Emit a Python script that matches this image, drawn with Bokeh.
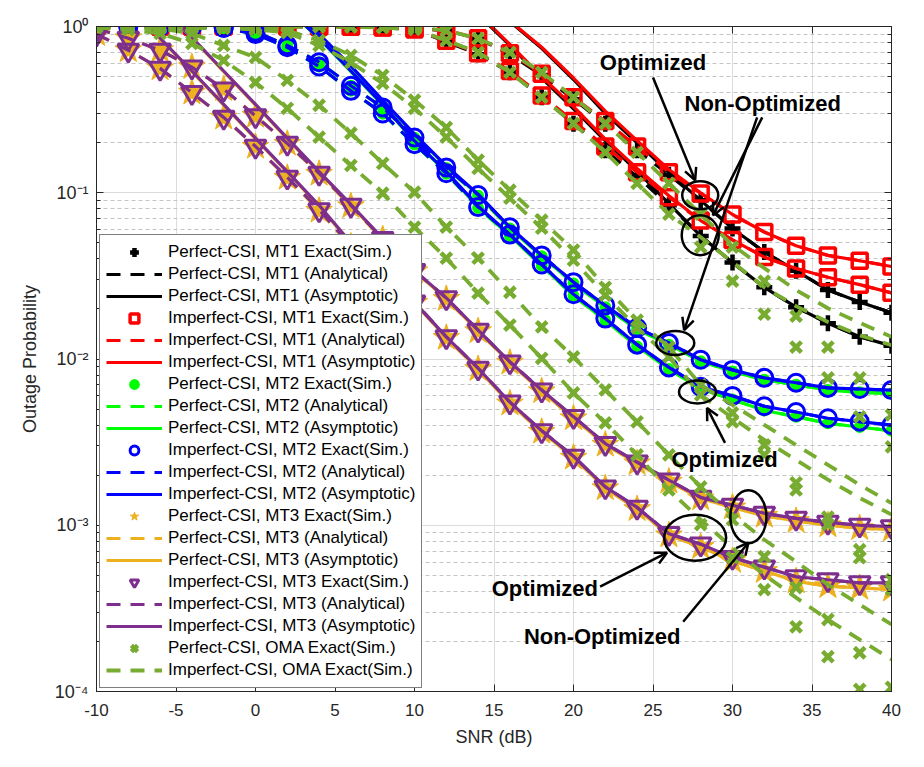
from bokeh.plotting import figure
from bokeh.models import (Range1d, FixedTicker, LogTicker, LinearAxis, LogAxis,
                          CustomJSTickFormatter, Legend, LegendItem, Label, Arrow, OpenHead)
from bokeh.embed import file_html
from bokeh.resources import INLINE

nan = float('nan')

snr_db = [-10, -8, -6, -4, -2, 0, 2, 4, 6, 8, 10, 12, 14, 16, 18, 20, 22, 24, 26, 28, 30, 32, 34, 36, 38, 40]
x_ticks = [-10, -5, 0, 5, 10, 15, 20, 25, 30, 35, 40]

# ---- MT1 ----
mt1_perf_hi = [1.0, 1.0, 1.0, 1.0, 1.0, 1.0, 1.0, 0.999, 0.997, 0.99, 0.972, 0.945, 0.845, 0.68, 0.51, 0.365, 0.26, 0.18, 0.128, 0.09, 0.061, 0.044, 0.034, 0.026, 0.022, 0.019]
mt1_perf_lo = [1.0, 1.0, 1.0, 1.0, 1.0, 1.0, 1.0, 0.998, 0.995, 0.985, 0.955, 0.81, 0.68, 0.53, 0.375, 0.26, 0.18, 0.125, 0.084, 0.055, 0.038, 0.027, 0.0205, 0.0164, 0.0136, 0.012]
mt1_imp_hi = [1.0, 1.0, 1.0, 1.0, 1.0, 1.0, 1.0, 0.999, 0.998, 0.99, 0.973, 0.946, 0.85, 0.69, 0.52, 0.375, 0.27, 0.19, 0.133, 0.099, 0.074, 0.058, 0.048, 0.042, 0.039, 0.036]
mt1_imp_lo = [1.0, 1.0, 1.0, 1.0, 1.0, 1.0, 1.0, 0.998, 0.996, 0.985, 0.96, 0.82, 0.69, 0.54, 0.385, 0.27, 0.19, 0.133, 0.094, 0.068, 0.052, 0.041, 0.035, 0.031, 0.028, 0.025]
mt1_perf_hi_asy = [nan]*13 + [1.07, 0.74, 0.48, 0.30, 0.20, 0.132, 0.09, 0.061, 0.044, 0.034, 0.026, 0.022, 0.019]
mt1_perf_lo_asy = [nan]*12 + [1.18, 0.77, 0.49, 0.32, 0.205, 0.135, 0.086, 0.055, 0.038, 0.027, 0.0205, 0.0164, 0.0136, 0.012]
mt1_imp_hi_asy = [nan]*13 + [1.08, 0.75, 0.49, 0.31, 0.206, 0.138, 0.1, 0.074, 0.058, 0.048, 0.042, 0.039, 0.036]
mt1_imp_lo_asy = [nan]*12 + [1.2, 0.78, 0.5, 0.33, 0.21, 0.14, 0.096, 0.068, 0.052, 0.041, 0.035, 0.031, 0.028, 0.025]

# ---- MT2 ----
mt2_imp_hi = [1.0, 1.0, 0.999, 0.995, 0.985, 0.93, 0.77, 0.61, 0.44, 0.326, 0.215, 0.142, 0.097, 0.062, 0.042, 0.029, 0.021, 0.0154, 0.0125, 0.0099, 0.0086, 0.0077, 0.0072, 0.0067, 0.0066, 0.0065]
mt2_imp_lo = [1.0, 1.0, 0.998, 0.993, 0.98, 0.90, 0.75, 0.575, 0.41, 0.30, 0.196, 0.131, 0.082, 0.056, 0.037, 0.0245, 0.0175, 0.0122, 0.0089, 0.0068, 0.0060, 0.0052, 0.0048, 0.0044, 0.0042, 0.0040]
mt2_perf_hi = [1.0, 1.0, 0.999, 0.995, 0.985, 0.93, 0.77, 0.61, 0.44, 0.325, 0.214, 0.141, 0.096, 0.061, 0.0415, 0.0285, 0.0205, 0.0151, 0.0122, 0.0097, 0.0084, 0.0075, 0.0070, 0.0065, 0.0063, 0.0062]
mt2_perf_lo = [1.0, 1.0, 0.998, 0.993, 0.98, 0.90, 0.75, 0.575, 0.41, 0.299, 0.195, 0.13, 0.081, 0.055, 0.0365, 0.024, 0.0171, 0.0119, 0.0087, 0.0066, 0.0057, 0.0049, 0.0045, 0.0041, 0.0039, 0.0037]
mt2_imp_hi_asy = [nan]*6 + [1.35, 0.90, 0.58, 0.36, 0.225, 0.145, 0.098, 0.062, 0.042, 0.029, 0.021, 0.0154, 0.0125, 0.0099, 0.0086, 0.0077, 0.0072, 0.0067, 0.0066, 0.0065]
mt2_imp_lo_asy = [nan]*6 + [1.28, 0.85, 0.54, 0.34, 0.205, 0.134, 0.083, 0.056, 0.037, 0.0245, 0.0175, 0.0122, 0.0089, 0.0068, 0.006, 0.0052, 0.0048, 0.0044, 0.0042, 0.004]
mt2_perf_hi_asy = [nan]*6 + [1.34, 0.89, 0.575, 0.357, 0.223, 0.144, 0.097, 0.061, 0.0415, 0.0285, 0.0205, 0.0151, 0.0122, 0.0097, 0.0084, 0.0075, 0.007, 0.0065, 0.0063, 0.0062]
mt2_perf_lo_asy = [nan]*6 + [1.27, 0.845, 0.535, 0.337, 0.203, 0.133, 0.082, 0.055, 0.0365, 0.024, 0.0171, 0.0119, 0.0087, 0.0066, 0.0057, 0.0049, 0.0045, 0.0041, 0.0039, 0.0037]

# ---- MT3 ----
mt3_imp_hi = [0.97, 0.85, 0.72, 0.57, 0.42, 0.29, 0.198, 0.131, 0.084, 0.053, 0.034, 0.0233, 0.0149, 0.0096, 0.0065, 0.0045, 0.0031, 0.0024, 0.00187, 0.00147, 0.00132, 0.00118, 0.0011, 0.00104, 0.001, 0.00098]
mt3_imp_lo = [0.90, 0.72, 0.56, 0.40, 0.284, 0.19, 0.124, 0.079, 0.048, 0.032, 0.022, 0.0136, 0.0088, 0.0055, 0.0037, 0.0026, 0.0017, 0.00128, 0.00089, 0.00077, 0.00064, 0.00056, 0.00049, 0.00047, 0.00045, 0.00045]
mt3_perf_hi = [0.97, 0.85, 0.72, 0.57, 0.42, 0.29, 0.197, 0.13, 0.083, 0.0525, 0.0337, 0.023, 0.0147, 0.0095, 0.0064, 0.0044, 0.00305, 0.00236, 0.00183, 0.00145, 0.00128, 0.00114, 0.00106, 0.001, 0.00096, 0.00094]
mt3_perf_lo = [0.90, 0.72, 0.56, 0.40, 0.283, 0.189, 0.123, 0.078, 0.0475, 0.0317, 0.0218, 0.0134, 0.0087, 0.0054, 0.00365, 0.00255, 0.00167, 0.00125, 0.00087, 0.00074, 0.00061, 0.00053, 0.00046, 0.00043, 0.00042, 0.00041]
mt3_imp_hi_asy = [nan, nan, 1.35, 0.86, 0.54, 0.34, 0.213, 0.134, 0.085, 0.053, 0.034, 0.0233, 0.0149, 0.0096, 0.0065, 0.0045, 0.0031, 0.0024, 0.00187, 0.00147, 0.00132, 0.00118, 0.0011, 0.00104, 0.001, 0.00098]
mt3_imp_lo_asy = [nan, 1.4, 0.85, 0.54, 0.34, 0.213, 0.134, 0.084, 0.05, 0.032, 0.022, 0.0136, 0.0088, 0.0055, 0.0037, 0.0026, 0.0017, 0.00128, 0.00089, 0.00077, 0.00064, 0.00056, 0.00049, 0.00047, 0.00045, 0.00045]
mt3_perf_hi_asy = [nan, nan, 1.34, 0.855, 0.535, 0.337, 0.211, 0.133, 0.084, 0.0525, 0.0337, 0.023, 0.0147, 0.0095, 0.0064, 0.0044, 0.00305, 0.00236, 0.00183, 0.00145, 0.00128, 0.00114, 0.00106, 0.001, 0.00096, 0.00094]
mt3_perf_lo_asy = [nan, 1.39, 0.845, 0.535, 0.337, 0.211, 0.133, 0.083, 0.0495, 0.0317, 0.0218, 0.0134, 0.0087, 0.0054, 0.00365, 0.00255, 0.00167, 0.00125, 0.00087, 0.00074, 0.00061, 0.00053, 0.00046, 0.00043, 0.00042, 0.00041]

# ---- OMA ----
oma_perf_s1 = [0.993, 0.986, 0.973, 0.908, 0.769, 0.652, 0.474, 0.336, 0.228, 0.150, 0.1007, 0.0621, 0.0404, 0.0252, 0.0156, 0.0103, 0.00652, 0.00419, 0.00265, 0.0017, 0.00108, 0.000647, 0.000422, 0.000271, 0.000171, 0.000106]
oma_perf_s2 = [0.986, 0.959, 0.908, 0.791, 0.625, 0.461, 0.322, 0.216, 0.146, 0.0993, 0.0621, 0.0404, 0.0249, 0.016, 0.0101, 0.00625, 0.00413, 0.00265, 0.00163, 0.00101, 0.000638, 0.00041, 0.000245, 0.000162, 0.000103, 0.00007]
oma_perf_q1 = [1.0, 0.999, 0.993, 0.986, 0.986, 0.973, 0.946, 0.824, 0.67, 0.508, 0.36, 0.247, 0.157, 0.1035, 0.0684, 0.0452, 0.027, 0.0171, 0.0118, 0.00698, 0.00474, 0.00304, 0.0018, 0.00112, 0.000713, 0.000471]
oma_perf_q2 = [1.0, 0.998, 0.99, 0.98, 0.975, 0.96, 0.92, 0.769, 0.608, 0.455, 0.322, 0.216, 0.14, 0.0927, 0.0612, 0.0393, 0.0242, 0.0154, 0.0103, 0.00608, 0.00419, 0.00265, 0.00163, 0.00101, 0.000638, 0.00041]
oma_perf_p1 = [1.0, 1.0, 1.0, 1.0, 1.0, 1.0, 1.0, 0.999, 0.997, 0.993, 0.986, 0.946, 0.847, 0.698, 0.53, 0.375, 0.261, 0.175, 0.114, 0.0743, 0.0471, 0.0294, 0.0181, 0.0118, 0.00769, 0.00461]
oma_perf_p2 = [1.0, 1.0, 1.0, 1.0, 1.0, 1.0, 1.0, 0.998, 0.995, 0.985, 0.96, 0.824, 0.698, 0.53, 0.375, 0.261, 0.175, 0.114, 0.0743, 0.0471, 0.0294, 0.0186, 0.0118, 0.00769, 0.00449, 0.00296]
oma_imp_s1 = [0.993, 0.986, 0.973, 0.908, 0.769, 0.652, 0.474, 0.336, 0.228, 0.150, 0.1007, 0.0621, 0.0404, 0.0252, 0.0156, 0.0103, 0.00652, 0.00419, 0.00265, 0.0017, 0.00116, 0.000818, 0.000604, 0.000439, 0.000333, 0.000253]
oma_imp_s2 = [0.986, 0.959, 0.908, 0.791, 0.625, 0.461, 0.322, 0.216, 0.146, 0.0993, 0.0621, 0.0404, 0.0249, 0.016, 0.0101, 0.00625, 0.00413, 0.00265, 0.00163, 0.00108, 0.000732, 0.000504, 0.000367, 0.000271, 0.000205, 0.000156]
oma_imp_q1 = [1.0, 0.999, 0.993, 0.986, 0.986, 0.973, 0.946, 0.824, 0.67, 0.508, 0.36, 0.247, 0.157, 0.1035, 0.0684, 0.0452, 0.027, 0.0171, 0.0118, 0.00698, 0.0053, 0.00402, 0.00304, 0.00231, 0.00175, 0.00136]
oma_imp_q2 = [1.0, 0.998, 0.99, 0.98, 0.975, 0.96, 0.92, 0.769, 0.608, 0.455, 0.322, 0.216, 0.14, 0.0927, 0.0612, 0.0393, 0.0242, 0.0154, 0.0103, 0.00608, 0.00442, 0.00326, 0.00247, 0.00188, 0.00146, 0.00116]
oma_imp_p1 = [1.0, 1.0, 1.0, 1.0, 1.0, 1.0, 1.0, 0.999, 0.997, 0.993, 0.986, 0.946, 0.847, 0.698, 0.53, 0.375, 0.261, 0.175, 0.114, 0.0743, 0.0484, 0.0352, 0.026, 0.0202, 0.0165, 0.0136]
oma_imp_p2 = [1.0, 1.0, 1.0, 1.0, 1.0, 1.0, 1.0, 0.998, 0.995, 0.985, 0.96, 0.824, 0.698, 0.53, 0.375, 0.261, 0.175, 0.114, 0.0743, 0.054, 0.0383, 0.027, 0.0208, 0.0167, 0.0139, 0.0121]

legend_labels = [
    "Perfect-CSI, MT1 Exact(Sim.)", "Perfect-CSI, MT1 (Analytical)", "Perfect-CSI, MT1 (Asymptotic)",
    "Imperfect-CSI, MT1 Exact(Sim.)", "Imperfect-CSI, MT1 (Analytical)", "Imperfect-CSI, MT1 (Asymptotic)",
    "Perfect-CSI, MT2 Exact(Sim.)", "Perfect-CSI, MT2 (Analytical)", "Perfect-CSI, MT2 (Asymptotic)",
    "Imperfect-CSI, MT2 Exact(Sim.)", "Imperfect-CSI, MT2 (Analytical)", "Imperfect-CSI, MT2 (Asymptotic)",
    "Perfect-CSI, MT3 Exact(Sim.)", "Perfect-CSI, MT3 (Analytical)", "Perfect-CSI, MT3 (Asymptotic)",
    "Imperfect-CSI, MT3 Exact(Sim.)", "Imperfect-CSI, MT3 (Analytical)", "Imperfect-CSI, MT3 (Asymptotic)",
    "Perfect-CSI, OMA Exact(Sim.)", "Imperfect-CSI, OMA Exact(Sim.)",
]

FONT = "Liberation Sans"
BLACK, RED, GREEN, BLUE = "#000000", "#FF0000", "#00FF00", "#0000FF"
ORANGE, PURPLE, OLIVE = "#EDB120", "#7E2F8E", "#77AC30"
DASH = "14 10"
LW = 3.2

p = figure(width=916, height=759, x_range=Range1d(-10, 40), y_range=Range1d(1e-4, 1),
           y_axis_type="log", output_backend="svg", toolbar_location=None,
           min_border_left=96, min_border_right=25, min_border_top=26, min_border_bottom=68)
p.background_fill_color = "white"
p.border_fill_color = "white"
p.outline_line_color = "#262626"

# grids
p.xgrid.grid_line_color = "#DCDCDC"
p.ygrid.grid_line_color = "#DCDCDC"
p.ygrid.minor_grid_line_color = "#C4C4C4"
p.ygrid.minor_grid_line_dash = "4 3"

# axes
p.xaxis.ticker = FixedTicker(ticks=x_ticks)
p.xaxis.formatter = CustomJSTickFormatter(code="return String(tick);")
p.yaxis.ticker = LogTicker(num_minor_ticks=10)
sup_js = """
const m = {"-":"\u207B","0":"\u2070","1":"\u00B9","2":"\u00B2","3":"\u00B3","4":"\u2074"};
const e = Math.round(Math.log10(tick));
let s = "";
for (const c of String(e)) { s += m[c]; }
return "10" + s;
"""
p.yaxis.formatter = CustomJSTickFormatter(code=sup_js)
for ax in (p.xaxis, p.yaxis):
    ax.major_label_text_font = FONT
    ax.major_label_text_font_size = "17px"
    ax.major_label_text_color = "#262626"
    ax.axis_label_text_font = FONT
    ax.axis_label_text_font_size = "18px"
    ax.axis_label_text_font_style = "normal"
    ax.axis_label_text_color = "#262626"
    ax.axis_line_color = "#262626"
    ax.major_tick_line_color = "#262626"
    ax.minor_tick_line_color = "#262626"
    ax.major_tick_in = 7
    ax.major_tick_out = 0
    ax.minor_tick_in = 4
    ax.minor_tick_out = 0
p.yaxis.major_label_text_font_size = "18px"
p.xaxis.minor_tick_line_color = None
p.xaxis.axis_label = "SNR (dB)"
p.yaxis.axis_label = "Outage Probability"
p.xaxis.major_label_standoff = 12
p.xaxis.axis_label_standoff = 8
p.yaxis.major_label_standoff = 8
p.yaxis.axis_label_standoff = 12

blank = CustomJSTickFormatter(code="return '';")
top_ax = LinearAxis(ticker=FixedTicker(ticks=x_ticks), formatter=blank, major_tick_in=7, major_tick_out=0,
                    minor_tick_line_color=None, axis_line_color="#262626", major_tick_line_color="#262626",
                    major_label_text_font_size="1px")
p.add_layout(top_ax, "above")
right_ax = LogAxis(ticker=LogTicker(num_minor_ticks=10), formatter=blank, major_tick_in=7, major_tick_out=0,
                   minor_tick_in=4, minor_tick_out=0, axis_line_color="#262626",
                   major_tick_line_color="#262626", minor_tick_line_color="#262626",
                   major_label_text_font_size="1px")
p.add_layout(right_ax, "right")

x = snr_db
legend_r = []

def group(color, sim_hi, sim_lo, asy_hi, asy_lo, marker, msize, mlw, filled):
    fill = color if filled else None
    r1 = p.scatter(x, sim_hi, marker=marker, size=msize, line_color=color, line_width=mlw, fill_color=fill)
    p.scatter(x, sim_lo, marker=marker, size=msize, line_color=color, line_width=mlw, fill_color=fill)
    r2 = p.line(x, sim_hi, line_color=color, line_width=LW, line_dash=DASH)
    p.line(x, sim_lo, line_color=color, line_width=LW, line_dash=DASH)
    r3 = p.line(x, asy_hi, line_color=color, line_width=LW)
    p.line(x, asy_lo, line_color=color, line_width=LW)
    legend_r.extend([r1, r2, r3])

group(BLACK, mt1_perf_hi, mt1_perf_lo, mt1_perf_hi_asy, mt1_perf_lo_asy, "cross", 16, 4.5, False)
group(RED, mt1_imp_hi, mt1_imp_lo, mt1_imp_hi_asy, mt1_imp_lo_asy, "square", 15, 3.5, False)
group(GREEN, mt2_perf_hi, mt2_perf_lo, mt2_perf_hi_asy, mt2_perf_lo_asy, "circle", 10, 2, True)
group(BLUE, mt2_imp_hi, mt2_imp_lo, mt2_imp_hi_asy, mt2_imp_lo_asy, "circle", 17, 3, False)
group(ORANGE, mt3_perf_hi, mt3_perf_lo, mt3_perf_hi_asy, mt3_perf_lo_asy, "star", 28, 1, True)
group(PURPLE, mt3_imp_hi, mt3_imp_lo, mt3_imp_hi_asy, mt3_imp_lo_asy, "inverted_triangle", 21, 3, False)

r_oma = None
for ys in (oma_perf_s1, oma_perf_s2, oma_perf_q1, oma_perf_q2, oma_perf_p1, oma_perf_p2):
    r = p.scatter(x, ys, marker="x", size=15, line_color=OLIVE, line_width=4.5)
    if r_oma is None:
        r_oma = r
r_omad = None
for ys in (oma_imp_s1, oma_imp_s2, oma_imp_q1, oma_imp_q2, oma_imp_p1, oma_imp_p2):
    r = p.line(x, ys, line_color=OLIVE, line_width=3.8, line_dash=DASH)
    if r_omad is None:
        r_omad = r
legend_r.extend([r_oma, r_omad])

legend = Legend(items=[LegendItem(label=lab, renderers=[r]) for lab, r in zip(legend_labels, legend_r)],
                location="bottom_left", margin=3, padding=6, spacing=0,
                glyph_width=56, glyph_height=22, label_height=22, label_standoff=6,
                label_text_font=FONT, label_text_font_size="17px", label_text_color="#000000",
                border_line_color="#000000", border_line_width=1,
                background_fill_color="white", background_fill_alpha=1.0)
p.add_layout(legend)

# annotations: ellipses
ell_x = [27.97, 27.97, 26.4, 27.8, 27.65, 31.0]
ell_y = [0.0966, 0.0556, 0.01248, 0.00634, 0.000841, 0.001125]
ell_w = [36, 37, 38, 37, 62, 36]
ell_h = [28, 40, 24, 23, 46, 53]
p.ellipse(x=ell_x, y=ell_y, width=ell_w, height=ell_h, width_units="screen", height_units="screen",
          fill_color=None, line_color="black", line_width=2.5)

arrows = [
    (25.0, 0.494, 27.65, 0.119),
    (31.87, 0.284, 28.78, 0.0733),
    (31.55, 0.284, 26.96, 0.01493),
    (29.53, 0.00313, 28.4, 0.00508),
    (21.67, 0.000427, 25.88, 0.000684),
    (26.9, 0.000263, 31.0, 0.000785),
]
for xs, ys_, xe, ye in arrows:
    p.add_layout(Arrow(end=OpenHead(size=12, line_width=2.5, line_color="black"),
                       x_start=xs, y_start=ys_, x_end=xe, y_end=ye,
                       line_width=2.5, line_color="black"))

texts = [
    (25.0, 0.608, "Optimized"),
    (31.9, 0.345, "Non-Optimized"),
    (29.5, 0.00247, "Optimized"),
    (18.2, 0.000416, "Optimized"),
    (21.8, 0.000214, "Non-Optimized"),
]
for tx, ty, tt in texts:
    p.add_layout(Label(x=tx, y=ty, text=tt, text_align="center", text_baseline="middle",
                       text_font=FONT, text_font_size="22px", text_font_style="bold", text_color="black"))

open("out.html", "w").write(file_html(p, INLINE))
